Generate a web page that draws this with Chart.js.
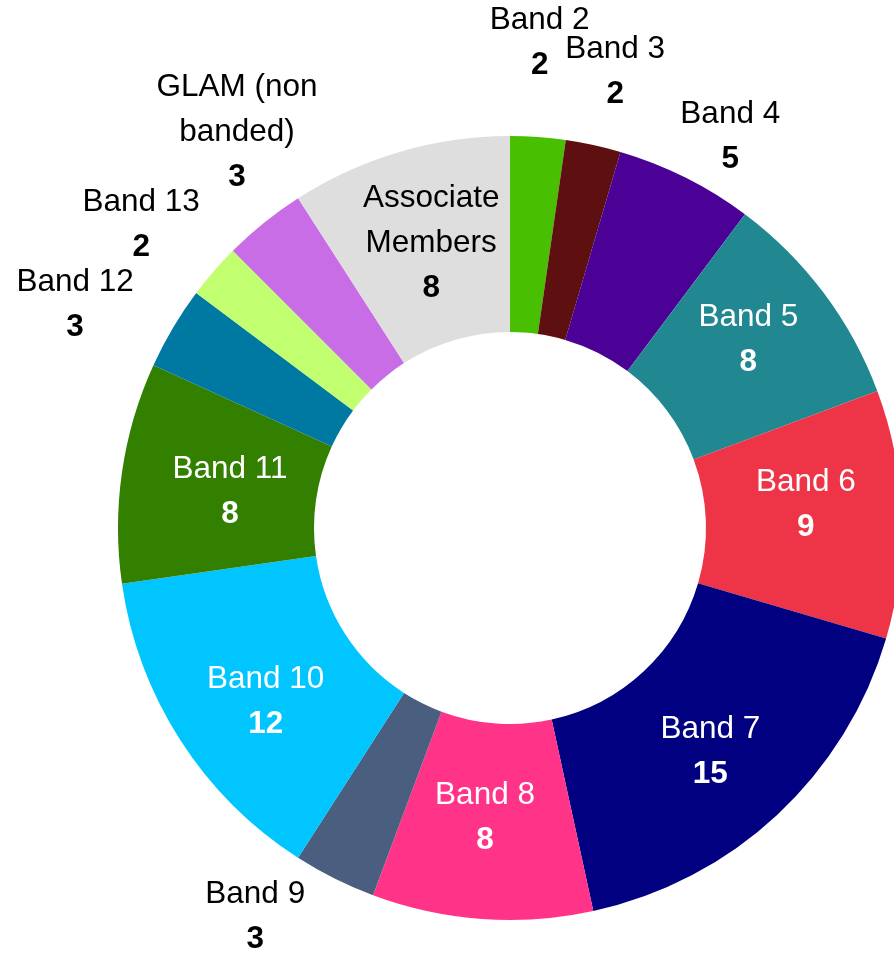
<!DOCTYPE html>
<html>
<head>
<meta charset="utf-8">
<script src="https://cdn.jsdelivr.net/npm/chart.js@4"></script>
<style>
  html, body { margin: 0; padding: 0; background: #fff; overflow: hidden; }
  #wrap { position: absolute; left: 0; top: 0; width: 1020px; height: 1056px; }
</style>
</head>
<body>
<div id="wrap"><canvas id="chart" width="1020" height="1056"></canvas></div>
<script>
// Data
const labels = ['Band 2', 'Band 3', 'Band 4', 'Band 5', 'Band 6', 'Band 7', 'Band 8', 'Band 9',
  'Band 10', 'Band 11', 'Band 12', 'Band 13', 'GLAM (non banded)', 'Associate Members']
const values = [2, 2, 5, 8, 9, 15, 8, 3, 12, 8, 3, 2, 3, 8]
const colors = ['#48bf00', '#5e0f0f', '#4b0096', '#218891', '#ee3548', '#000080', '#ff3388', '#4a5f80',
  '#00c5ff', '#338000', '#0079a2', '#c1ff70', '#c86de6', '#dedede']

// How each label is drawn: text lines, colour, radius (fraction of outer radius, 0 = ring middle), nudge
const labelLines = [
  ['Band 2'], ['Band 3'], ['Band 4'], ['Band 5'], ['Band 6'], ['Band 7'], ['Band 8'], ['Band 9'],
  ['Band 10'], ['Band 11'], ['Band 12'], ['Band 13'], ['GLAM (non', 'banded)'], ['Associate', 'Members']
]
const labelColors = ['#000', '#000', '#000', '#fff', '#fff', '#fff', '#fff', '#000',
  '#fff', '#fff', '#000', '#000', '#000', '#000']
const labelRadius = [1.24, 1.19, 1.13, 0, 0, 0, 0, 1.11, 0, 0, 1.29, 1.245, 1.11, 0]
const labelNudge = [[-5, 0], [6, 0], [22, 5], [3, -12], [2, -13], [0, 9], [-4, -3], [-60, 0],
  [3, 15], [11, 6], [0, 35], [0, 16], [0, -57], [4, -3]]

const ringLabels = {
  id: 'ringLabels',
  afterDatasetsDraw(chart) {
    const ctx = chart.ctx
    const meta = chart.getDatasetMeta(0)
    const lineH = 45
    ctx.save()
    ctx.textAlign = 'center'
    ctx.textBaseline = 'middle'
    meta.data.forEach((arc, i) => {
      const p = arc.getProps(['x', 'y', 'startAngle', 'endAngle', 'innerRadius', 'outerRadius'])
      const mid = (p.startAngle + p.endAngle) / 2
      const r = labelRadius[i] ? labelRadius[i] * p.outerRadius : (p.innerRadius + p.outerRadius) / 2
      const cx = p.x + Math.cos(mid) * r + labelNudge[i][0]
      const cy = p.y + Math.sin(mid) * r + labelNudge[i][1]
      const lines = labelLines[i].map(t => ({ t, bold: false })).concat([{ t: String(values[i]), bold: true }])
      const top = cy - (lines.length - 1) * lineH / 2
      ctx.fillStyle = labelColors[i]
      lines.forEach((ln, k) => {
        ctx.font = (ln.bold ? 'bold ' : '') + '31.5px "Liberation Sans", Arial, sans-serif'
        ctx.fillText(ln.t, cx, top + k * lineH)
      })
    })
    ctx.restore()
  }
}

new Chart(document.getElementById('chart'), {
  type: 'doughnut',
  data: {
    labels: labels,
    datasets: [{
      data: values,
      backgroundColor: colors,
      borderWidth: 0
    }]
  },
  options: {
    responsive: false,
    animation: false,
    cutout: '50%',
    layout: { padding: { left: 118, right: 118, top: 136, bottom: 136 } },
    plugins: {
      legend: { display: false },
      tooltip: { enabled: false }
    }
  },
  plugins: [ringLabels]
})
</script>
</body>
</html>
